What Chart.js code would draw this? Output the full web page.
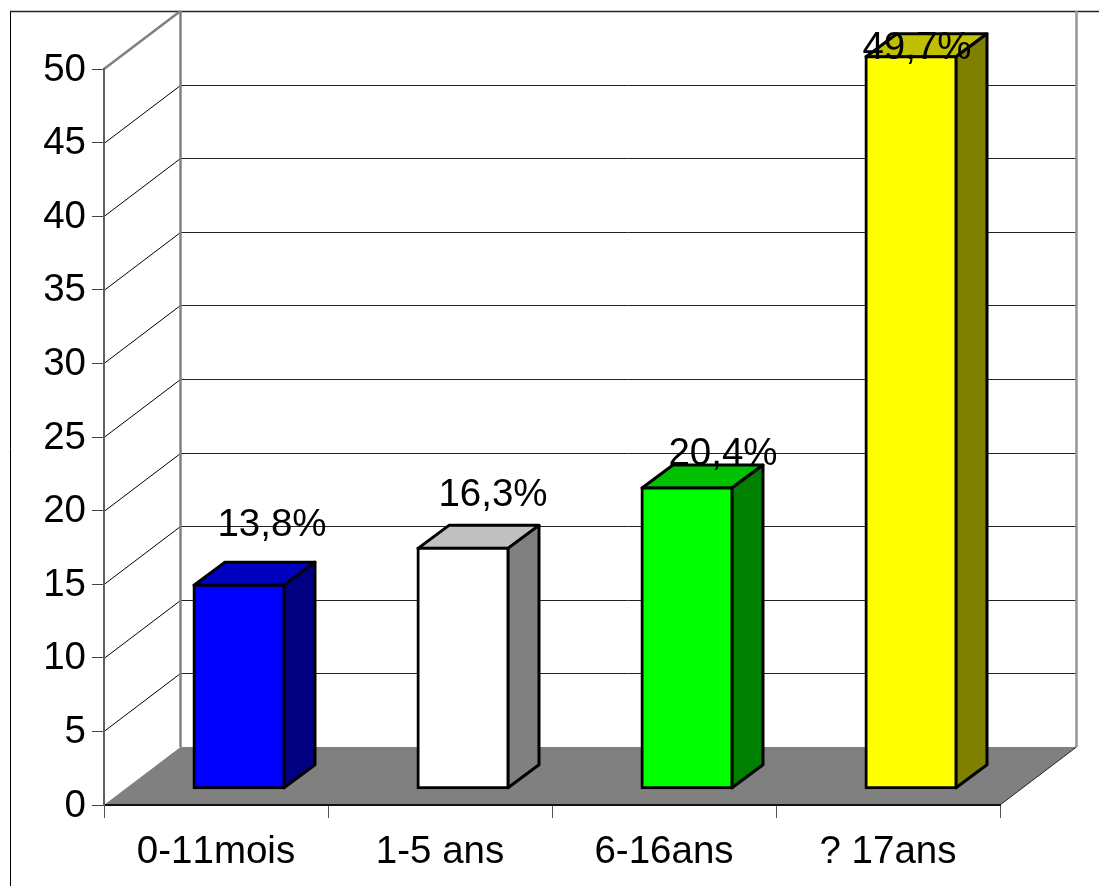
<!DOCTYPE html>
<html>
<head>
<meta charset="utf-8">
<title>Répartition par âge</title>
<script src="https://cdn.jsdelivr.net/npm/chart.js@4"></script>
<style>
    html, body { margin: 0; padding: 0; background: #fff; }
    #wrap { width: 1099px; height: 886px; }
</style>
</head>
<body>
<div id="wrap"><canvas id="age-chart"></canvas></div>
<script>
const categories = ['0-11mois', '1-5 ans', '6-16ans', '? 17ans'];
const percentages = [13.8, 16.3, 20.4, 49.7];
const valueLabels = ['13,8%', '16,3%', '20,4%', '49,7%'];
const yTicks = [0, 5, 10, 15, 20, 25, 30, 35, 40, 45, 50];

const frontColors = ['#0000ff', '#ffffff', '#00ff00', '#ffff00'];
const topColors = ['#0000c0', '#c0c0c0', '#00c000', '#c0c000'];
const sideColors = ['#000080', '#808080', '#008000', '#808000'];

const FONT_SIZE = 38.5;
// shift of the back wall relative to the front axes
const WALL_DX = 76.5;
const WALL_DY = -58;
// bars stand on the middle of the floor
const BAR_DX = 23;
const BAR_DY = -16.7;
// depth of a bar
const DEPTH_DX = 31;
const DEPTH_DY = -23;
// hand placed value labels, relative to the centre of the bar top
const labelShiftX = [33, 30, 36, 6];
const labelShiftY = [-60, -53, -34, -8];

function line(ctx, x1, y1, x2, y2, color, width) {
    ctx.beginPath();
    ctx.moveTo(x1, y1);
    ctx.lineTo(x2, y2);
    ctx.strokeStyle = color;
    ctx.lineWidth = width;
    ctx.stroke();
}

const wallsPlugin = {
    id: 'walls',
    beforeDraw(chart) {
        const ctx = chart.ctx;
        const { left, right, bottom } = chart.chartArea;
        const y = chart.scales.y;

        // all the text is set without pair kerning
        ctx.fontKerning = 'none';

        ctx.save();
        // outer frame, open at the right and at the bottom
        line(ctx, 10.5, 11.5, 10.5, 886, '#000', 1);
        line(ctx, 10, 11.5, 1099, 11.5, '#222', 1.5);

        // floor
        ctx.beginPath();
        ctx.moveTo(left, bottom);
        ctx.lineTo(left + WALL_DX, bottom + WALL_DY);
        ctx.lineTo(right + WALL_DX, bottom + WALL_DY);
        ctx.lineTo(right, bottom);
        ctx.closePath();
        ctx.fillStyle = '#808080';
        ctx.fill();
        line(ctx, right, bottom, right + WALL_DX, bottom + WALL_DY, '#222', 1);

        // grid lines on the side wall and the back wall
        yTicks.forEach(v => {
            if (v === 0 || v === 50) return;
            const py = Math.round(y.getPixelForValue(v)) + 0.5;
            const by = Math.round(py + WALL_DY) - 0.5;
            line(ctx, left, py, left + WALL_DX, by, '#000', 1);
            line(ctx, left + WALL_DX, by, right + WALL_DX, by, '#222', 1);
        });

        // wall edges
        const topY = y.getPixelForValue(50);
        line(ctx, left, topY, left + WALL_DX, topY + WALL_DY, '#808080', 2.5);
        line(ctx, left + WALL_DX, topY + WALL_DY, left + WALL_DX, bottom + WALL_DY, '#808080', 2.5);
        line(ctx, right + WALL_DX, topY + WALL_DY, right + WALL_DX, bottom + WALL_DY, '#969696', 2.5);
        ctx.restore();
    },
    beforeDatasetsDraw(chart) {
        const ctx = chart.ctx;
        ctx.save();
        ctx.translate(BAR_DX, BAR_DY);

        // top and side faces, the library draws the front face afterwards
        chart.getDatasetMeta(0).data.forEach((bar, i) => {
            const half = bar.width / 2;
            const l = bar.x - half;
            const r = bar.x + half;
            const t = bar.y;
            const b = bar.base;
            ctx.lineWidth = 3;
            ctx.strokeStyle = '#000';
            ctx.lineJoin = 'round';

            ctx.beginPath();
            ctx.moveTo(l, t);
            ctx.lineTo(l + DEPTH_DX, t + DEPTH_DY);
            ctx.lineTo(r + DEPTH_DX, t + DEPTH_DY);
            ctx.lineTo(r, t);
            ctx.closePath();
            ctx.fillStyle = topColors[i];
            ctx.fill();
            ctx.stroke();

            ctx.beginPath();
            ctx.moveTo(r, t);
            ctx.lineTo(r + DEPTH_DX, t + DEPTH_DY);
            ctx.lineTo(r + DEPTH_DX, b + DEPTH_DY);
            ctx.lineTo(r, b);
            ctx.closePath();
            ctx.fillStyle = sideColors[i];
            ctx.fill();
            ctx.stroke();
        });
    },
    afterDatasetsDraw(chart) {
        const ctx = chart.ctx;
        ctx.restore();

        ctx.save();
        ctx.font = FONT_SIZE + 'px "Liberation Sans"';
        ctx.fillStyle = '#000';
        ctx.textAlign = 'center';
        ctx.textBaseline = 'middle';
        chart.getDatasetMeta(0).data.forEach((bar, i) => {
            const cx = bar.x + BAR_DX + labelShiftX[i];
            const cy = bar.y + BAR_DY + labelShiftY[i];
            ctx.fillText(valueLabels[i], cx, cy);
        });
        ctx.restore();
    }
};

new Chart(document.getElementById('age-chart'), {
    type: 'bar',
    data: {
        labels: categories,
        datasets: [{
            data: percentages,
            backgroundColor: frontColors,
            borderColor: '#000',
            borderWidth: 3,
            borderSkipped: false,
            inflateAmount: 1.5,
            barThickness: 90,
            clip: false
        }]
    },
    options: {
        responsive: true,
        maintainAspectRatio: false,
        animation: false,
        events: [],
        layout: { padding: { left: 0, top: 69, right: 99, bottom: 0 } },
        plugins: { legend: { display: false }, tooltip: { enabled: false } },
        scales: {
            x: {
                afterFit(scale) { scale.height = 81; },
                grid: { drawOnChartArea: false, tickLength: 13, color: '#555', offset: true },
                border: { color: '#111', width: 2 },
                ticks: { color: '#000', font: { family: '"Liberation Sans"', size: FONT_SIZE }, padding: 11, maxRotation: 0 }
            },
            y: {
                min: 0,
                max: 50,
                afterFit(scale) { scale.width = 104; },
                grid: { drawOnChartArea: false, tickLength: 12, color: '#444' },
                border: { color: '#606060', width: 2 },
                ticks: { stepSize: 5, color: '#000', font: { family: '"Liberation Sans"', size: FONT_SIZE }, padding: 6, labelOffset: 1 }
            }
        }
    },
    plugins: [wallsPlugin]
});
</script>
</body>
</html>
